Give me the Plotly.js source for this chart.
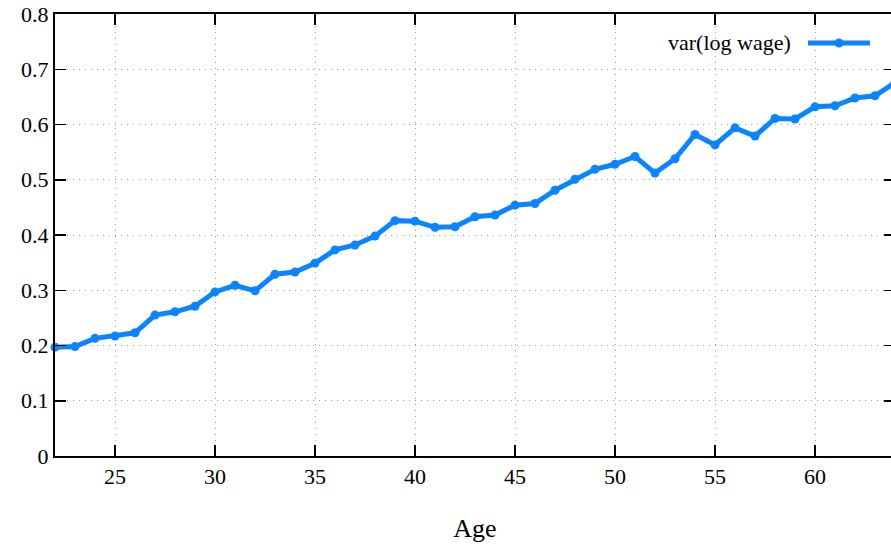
<!DOCTYPE html>
<html>
<head>
<meta charset="utf-8">
<script src="https://cdn.plot.ly/plotly-3.0.1.min.js"></script>
<style>
html,body{margin:0;padding:0;overflow:hidden;background:#fff;}
#chart{width:895px;height:550px;}
</style>
</head>
<body>
<div id="chart"></div>
<script>
var ages = [22,23,24,25,26,27,28,29,30,31,32,33,34,35,36,37,38,39,40,41,42,43,44,45,46,47,48,49,50,51,52,53,54,55,56,57,58,59,60,61,62,63,64];
var varLogWage = [0.197,0.198,0.213,0.217,0.223,0.255,0.261,0.271,0.297,0.309,0.299,0.329,0.333,0.349,0.373,0.382,0.398,0.426,0.425,0.414,0.415,0.433,0.436,0.454,0.457,0.481,0.501,0.519,0.528,0.542,0.512,0.538,0.582,0.563,0.594,0.579,0.611,0.610,0.632,0.634,0.648,0.652,0.676];
var seriesName = 'var(log wage)';
var xTicks = [25,30,35,40,45,50,55,60];
var yTicks = [0,0.1,0.2,0.3,0.4,0.5,0.6,0.7,0.8];
var xLabel = 'Age';

var blue = '#0a84ff';

var trace = {
  x: ages, y: varLogWage, type: 'scatter', mode: 'lines+markers',
  name: seriesName, showlegend: false, cliponaxis: false,
  line: {color: blue, width: 5},
  marker: {color: blue, size: 9}
};

var layout = {
  width: 895, height: 550,
  margin: {l: 55, r: 0, t: 14, b: 94},
  font: {family: 'Liberation Serif', size: 22, color: 'black'},
  showlegend: false,
  xaxis: {
    range: [22, 64], tickvals: xTicks,
    ticks: 'inside', ticklen: 11, tickwidth: 1.5, tickcolor: 'black',
    showline: true, linecolor: 'black', linewidth: 2, mirror: 'allticks',
    showgrid: true, gridcolor: '#9a9a9a', gridwidth: 1, griddash: '1px,5px',
    zeroline: false,
    tickfont: {family: 'Liberation Serif', size: 22, color: 'black'},
    title: {text: xLabel, standoff: 30}
  },
  yaxis: {
    range: [0, 0.8], tickvals: yTicks,
    ticks: 'inside', ticklen: 11, tickwidth: 1.5, tickcolor: 'black',
    showline: true, linecolor: 'black', linewidth: 2, mirror: 'allticks',
    showgrid: true, gridcolor: '#9a9a9a', gridwidth: 1, griddash: '1px,5px',
    zeroline: false,
    tickfont: {family: 'Liberation Serif', size: 22, color: 'black'}
  },
  annotations: [{
    xref: 'paper', yref: 'paper', x: 0.8786, y: 0.9344,
    xanchor: 'right', yanchor: 'middle', showarrow: false,
    text: seriesName, font: {family: 'Liberation Serif', size: 22, color: 'black'}
  }],
  shapes: [
    {type: 'line', xref: 'paper', yref: 'paper', x0: 0.8964, x1: 0.9702, y0: 0.9344, y1: 0.9344,
     line: {color: blue, width: 5}},
    {type: 'circle', xref: 'paper', yref: 'paper',
     x0: 0.9279, x1: 0.9387, y0: 0.9242, y1: 0.9446,
     fillcolor: blue, line: {color: blue, width: 0}}
  ]
};

Plotly.newPlot('chart', [trace], layout, {staticPlot: true, displayModeBar: false});
</script>
</body>
</html>
